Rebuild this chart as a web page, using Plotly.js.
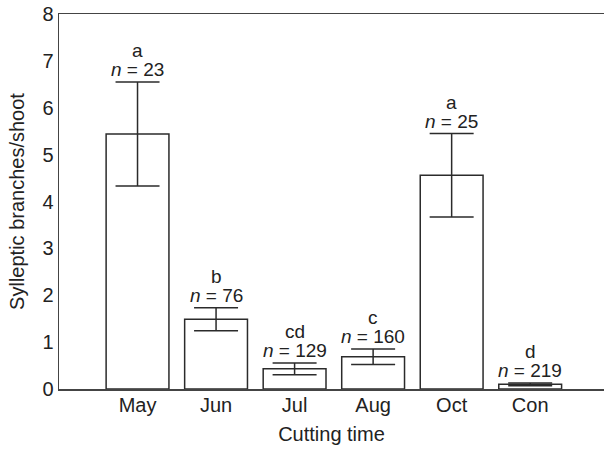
<!DOCTYPE html>
<html>
<head>
<meta charset="utf-8">
<script src="https://cdn.plot.ly/plotly-3.0.1.min.js"></script>
<style>html,body{margin:0;padding:0;background:#fff;}#chart{width:604px;height:451px;}</style>
</head>
<body>
<div id="chart"></div>
<script>
var months = ["May", "Jun", "Jul", "Aug", "Oct", "Con"];
var means = [5.44, 1.49, 0.43, 0.69, 4.56, 0.10];
var errs = [1.11, 0.245, 0.125, 0.165, 0.89, 0.03];
var letters = ["a", "b", "cd", "c", "a", "d"];
var counts = [23, 76, 129, 160, 25, 219];
var yTicks = [0, 1, 2, 3, 4, 5, 6, 7, 8];

var lineCol = "#2b2b2b";
var font = "Liberation Sans, Arial, Helvetica, sans-serif";

var trace = {
  type: "bar",
  x: months.map(function(m, i){ return i; }),
  y: means,
  width: 0.8,
  marker: {color: "#ffffff", line: {color: lineCol, width: 1.5}},
  error_y: {type: "data", array: errs, visible: true, color: lineCol, thickness: 1.5, width: 22},
  hoverinfo: "none"
};

var annotations = [];
months.forEach(function(m, i){
  var top = means[i] + errs[i];
  annotations.push({x: i, y: top, xref: "x", yref: "y", text: "<i>n</i> = " + counts[i],
    showarrow: false, yanchor: "bottom", yshift: 0, font: {family: font, size: 19, color: "#222"}});
  annotations.push({x: i, y: top, xref: "x", yref: "y", text: letters[i],
    showarrow: false, yanchor: "bottom", yshift: 19, font: {family: font, size: 19, color: "#222"}});
});

var layout = {
  width: 604, height: 451,
  margin: {l: 59, r: 0, t: 14, b: 62},
  paper_bgcolor: "#fff", plot_bgcolor: "#fff",
  showlegend: false,
  xaxis: {
    range: [-1, 5.94],
    tickmode: "array", tickvals: months.map(function(m, i){ return i; }), ticktext: months,
    showgrid: false, zeroline: false, showline: true, mirror: true, linecolor: "#444", linewidth: 1.5,
    ticks: "", ticklabelstandoff: -3, tickfont: {family: font, size: 20, color: "#222"},
    title: {text: "Cutting time", font: {family: font, size: 20, color: "#222"}, standoff: 12}
  },
  yaxis: {
    range: [0, 8],
    tickmode: "array", tickvals: yTicks, ticktext: yTicks.map(String),
    showgrid: false, zeroline: false, showline: true, linecolor: "#444", linewidth: 1.5,
    ticks: "", tickfont: {family: font, size: 20, color: "#222"},
    title: {text: "Sylleptic branches/shoot", font: {family: font, size: 20, color: "#222"}, standoff: 12}
  },
  annotations: annotations
};

Plotly.newPlot("chart", [trace], layout, {displayModeBar: false, staticPlot: true});
</script>
</body>
</html>
